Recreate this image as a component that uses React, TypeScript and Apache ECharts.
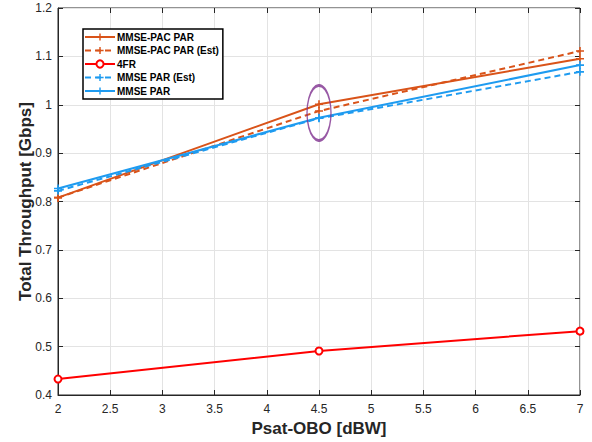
import React, { useEffect, useRef } from "react";
import * as echarts from "echarts";

const xValues = [2, 4.5, 7];
const mmsePacPar = [0.808, 1.001, 1.095];
const mmsePacParEst = [0.808, 0.987, 1.111];
const fourFR = [0.433, 0.491, 0.532];
const mmseParEst = [0.822, 0.972, 1.068];
const mmsePar = [0.827, 0.973, 1.082];
const highlight = [4.5, 0.983];

const ORANGE = "#D95319";
const RED = "#FF0000";
const BLUE = "#1E9BF0";
const PURPLE = "#7E2F8E";
const AXIS = "#262626";
const PLUS = "path://M4,0h2v4h4v2h-4v4h-2v-4h-4v-2h4z";

const pairs = (ys: number[]) => xValues.map((x, i) => [x, ys[i]]);

export default function App() {
  const ref = useRef<HTMLDivElement>(null);
  useEffect(() => {
    const chart = echarts.init(ref.current!, undefined, { renderer: "svg" });
    const font = "Liberation Sans, Arial, sans-serif";
    const lineSeries = (name: string, data: number[], color: string, dashed: boolean, symbol: string, size: number) => ({
      name,
      type: "line",
      data: pairs(data),
      symbol,
      symbolSize: size,
      showSymbol: true,
      lineStyle: { color, width: 2, type: dashed ? [6, 4] : "solid" },
      itemStyle: { color, borderColor: color, borderWidth: symbol === "emptyCircle" ? 2 : 0 },
      emphasis: { disabled: true },
      z: 3,
    });
    chart.setOption({
      animation: false,
      textStyle: { fontFamily: font },
      grid: { left: 58, right: 12, top: 8, bottom: 42, show: true, borderColor: AXIS, borderWidth: 1, backgroundColor: "#fff" },
      legend: {
        left: 83,
        top: 29,
        orient: "vertical",
        itemWidth: 30,
        itemHeight: 9,
        itemGap: 3.5,
        padding: [3, 4, 3, 1],
        borderColor: "#000",
        borderWidth: 1.5,
        backgroundColor: "#fff",
        textStyle: { fontSize: 10, fontWeight: "bold", color: "#000", fontFamily: font, padding: [0, 0, 0, -3] },
        data: ["MMSE-PAC PAR", "MMSE-PAC PAR (Est)", "4FR", "MMSE PAR (Est)", "MMSE PAR"],
      },
      xAxis: [
        {
          type: "value",
          min: 2,
          max: 7,
          interval: 0.5,
          name: "Psat-OBO [dBW]",
          nameLocation: "middle",
          nameGap: 25,
          nameMoveOverlap: false,
          nameTextStyle: { fontSize: 17, fontWeight: "bold", color: AXIS, fontFamily: font },
          axisLine: { lineStyle: { color: AXIS } },
          axisTick: { inside: true, length: 5, lineStyle: { color: AXIS } },
          axisLabel: { fontSize: 12, color: AXIS, margin: 8 },
          splitLine: { show: true, lineStyle: { color: "#E3E3E3" } },
        },
        {
          type: "value",
          position: "top",
          min: 2,
          max: 7,
          interval: 0.5,
          axisLine: { show: false },
          axisTick: { inside: true, length: 5, lineStyle: { color: AXIS } },
          axisLabel: { show: false },
          splitLine: { show: false },
        },
      ],
      yAxis: [
        {
          type: "value",
          min: 0.4,
          max: 1.2,
          interval: 0.1,
          name: "Total Throughput [Gbps]",
          nameLocation: "middle",
          nameGap: 24,
          nameMoveOverlap: false,
          nameTextStyle: { fontSize: 17, fontWeight: "bold", color: AXIS, fontFamily: font },
          axisLine: { show: true, lineStyle: { color: AXIS } },
          axisTick: { show: true, inside: true, length: 5, lineStyle: { color: AXIS } },
          axisLabel: { fontSize: 12, color: AXIS, margin: 6, formatter: (v: number) => String(Math.round(v * 10) / 10) },
          splitLine: { show: true, lineStyle: { color: "#E3E3E3" } },
        },
        {
          type: "value",
          position: "right",
          min: 0.4,
          max: 1.2,
          interval: 0.1,
          axisLine: { show: false },
          axisTick: { show: true, inside: true, length: 5, lineStyle: { color: AXIS } },
          axisLabel: { show: false },
          splitLine: { show: false },
        },
      ],
      series: [
        lineSeries("MMSE-PAC PAR", mmsePacPar, ORANGE, false, PLUS, 8),
        lineSeries("MMSE-PAC PAR (Est)", mmsePacParEst, ORANGE, true, PLUS, 8),
        lineSeries("4FR", fourFR, RED, false, "emptyCircle", 7),
        lineSeries("MMSE PAR (Est)", mmseParEst, BLUE, true, PLUS, 8),
        lineSeries("MMSE PAR", mmsePar, BLUE, false, PLUS, 8),
        {
          type: "scatter",
          data: [highlight],
          symbol: "circle",
          symbolSize: [24, 55],
          itemStyle: { color: "rgba(0,0,0,0)", borderColor: PURPLE, borderWidth: 2 },
          emphasis: { disabled: true },
          silent: true,
          z: 4,
        },
      ],
    });
    return () => chart.dispose();
  }, []);
  return <div ref={ref} style={{ width: 592, height: 442, position: "absolute", left: 0, top: 0 }} />;
}
